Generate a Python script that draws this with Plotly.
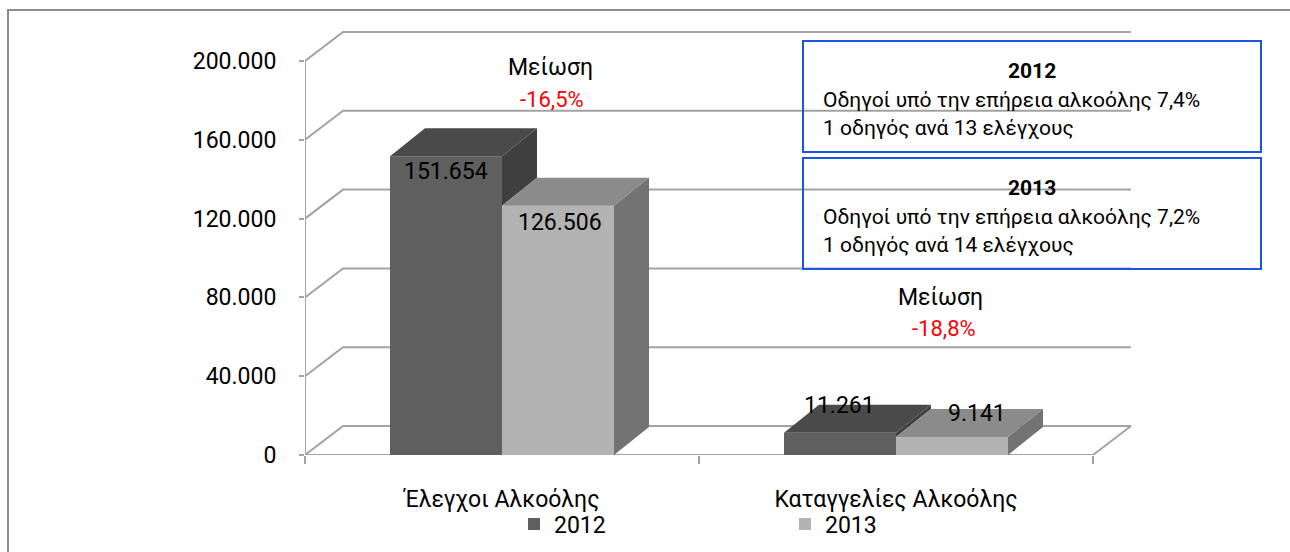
import plotly.graph_objects as go

# ---------------- data ----------------
categories = ["Έλεγχοι Αλκοόλης", "Καταγγελίες Αλκοόλης"]
series_names = ["2012", "2013"]
values_2012 = [151654, 11261]
values_2013 = [126506, 9141]
y_ticks = [0, 40000, 80000, 120000, 160000, 200000]
change_labels = ["-16,5%", "-18,8%"]
box_titles = ["2012", "2013"]
box_line1 = ["Οδηγοί υπό την επήρεια αλκοόλης 7,4%", "Οδηγοί υπό την επήρεια αλκοόλης 7,2%"]
box_line2 = ["1 οδηγός ανά 13 ελέγχους", "1 οδηγός ανά 14 ελέγχους"]

# ---------------- styling / geometry ----------------
W, H = 1290, 552
ML, MR, MT, MB = 305, 155, 30, 97
PX_PER_X = 394.0                 # pixels per category unit on the front plane
PX_PER_Y = 394.0 / 200000        # pixels per value unit
plot_w = W - ML - MR
plot_h = H - MT - MB
x_range = [-0.5, -0.5 + plot_w / PX_PER_X]
y_range = [0, plot_h / PX_PER_Y]

FONT = "Roboto"
GRID = "#a3a3a3"
bar_w = 112 / PX_PER_X
dx_bar, dy_bar = 35 / PX_PER_X, 28 / PX_PER_Y
dx_grid, dy_grid = 38 / PX_PER_X, 29 / PX_PER_Y
front_col = ["#5f5f5f", "#b3b3b3"]
top_col = ["#4a4a4a", "#8b8b8b"]
side_col = ["#3f3f3f", "#737373"]
# pixel offsets of value labels: [series][category]
label_yshift = [[-15, 27], [-17, 23]]
label_xshift = [[0, -1], [2, 25]]

def fmt(v):
    return f"{v:,}".replace(",", ".")

def px_to_paper_x(px):
    return (px - ML) / plot_w

def px_to_paper_y(py):
    return (H - MB - py) / plot_h

series_vals = [values_2012, values_2013]
x_idx = list(range(len(categories)))
offsets = [-bar_w, 0.0]

fig = go.Figure()

# front faces (real bars)
for s, name in enumerate(series_names):
    fig.add_trace(go.Bar(
        x=x_idx, y=series_vals[s], name=name, width=bar_w, offset=offsets[s],
        marker=dict(color=front_col[s], line=dict(width=0)),
        hoverinfo="skip",
    ))

# 3D top and side faces, derived from the data
for g in x_idx:
    for s in range(len(series_names)):
        v = series_vals[s][g]
        x0 = g + offsets[s]
        x1 = x0 + bar_w
        fig.add_trace(go.Scatter(
            x=[x0, x0 + dx_bar, x1 + dx_bar, x1, x0],
            y=[v, v + dy_bar, v + dy_bar, v, v],
            fill="toself", fillcolor=top_col[s], mode="lines", line=dict(width=0),
            showlegend=False, hoverinfo="skip"))
        if s + 1 < len(series_names):
            bottom = min(v, series_vals[s + 1][g])
        else:
            bottom = 0
        fig.add_trace(go.Scatter(
            x=[x1, x1 + dx_bar, x1 + dx_bar, x1, x1],
            y=[v, v + dy_bar, bottom + dy_bar, bottom, v],
            fill="toself", fillcolor=side_col[s], mode="lines", line=dict(width=0),
            showlegend=False, hoverinfo="skip"))

shapes = []
x_front_end = len(categories) - 0.5
for t in y_ticks:
    shapes.append(dict(
        type="path", xref="x", yref="y", layer="below",
        path=f"M{-0.5},{t} L{-0.5 + dx_grid},{t + dy_grid} L{x_front_end + dx_grid},{t + dy_grid}",
        line=dict(color=GRID, width=2)))
shapes.append(dict(type="path", xref="x", yref="y", layer="below",
                   path=f"M{-0.5},0 L{x_front_end},0 L{x_front_end + dx_grid},{dy_grid}",
                   line=dict(color=GRID, width=2)))
shapes.append(dict(type="line", xref="x", yref="y", layer="below",
                   x0=-0.5, x1=-0.5, y0=0, y1=y_ticks[-1],
                   line=dict(color=GRID, width=2)))

# outer chart border
shapes.append(dict(type="rect", xref="paper", yref="paper",
                   x0=px_to_paper_x(8), x1=px_to_paper_x(1400),
                   y0=px_to_paper_y(700), y1=px_to_paper_y(10),
                   line=dict(color="#8c8c8c", width=2)))

annotations = []
for g in x_idx:
    for s in range(len(series_names)):
        v = series_vals[s][g]
        annotations.append(dict(
            x=g + offsets[s] + bar_w / 2, y=v, xref="x", yref="y",
            xanchor="center", yanchor="middle",
            text=fmt(v), showarrow=False,
            yshift=label_yshift[s][g], xshift=label_xshift[s][g],
            font=dict(family=FONT, size=23, color="#000000")))

change_pos = [((550, 68), (552, 100)), ((940, 297), (944, 328))]
for ((px1, py1), (px2, py2)), lab in zip(change_pos, change_labels):
    annotations.append(dict(x=px_to_paper_x(px1), y=px_to_paper_y(py1), xref="paper", yref="paper",
                            xanchor="center", yanchor="middle",
                            text="Μείωση", showarrow=False,
                            font=dict(family=FONT, size=23, color="#000000")))
    annotations.append(dict(x=px_to_paper_x(px2), y=px_to_paper_y(py2), xref="paper", yref="paper",
                            xanchor="center", yanchor="middle",
                            text=lab, showarrow=False,
                            font=dict(family=FONT, size=22, color="#ff0000")))

box_y = [(41, 152), (158, 269)]
bx0, bx1 = 803, 1261
for i, (ytop, ybot) in enumerate(box_y):
    shapes.append(dict(type="rect", xref="paper", yref="paper",
                       x0=px_to_paper_x(bx0), x1=px_to_paper_x(bx1),
                       y0=px_to_paper_y(ybot), y1=px_to_paper_y(ytop),
                       line=dict(color="#1a56e0", width=2), fillcolor="rgba(0,0,0,0)"))
    annotations.append(dict(x=px_to_paper_x((bx0 + bx1) / 2), y=px_to_paper_y(ytop + 30),
                            xref="paper", yref="paper", xanchor="center", yanchor="middle",
                            text=f"<b>{box_titles[i]}</b>",
                            showarrow=False, font=dict(family=FONT, size=21, color="#000000")))
    annotations.append(dict(x=px_to_paper_x(821), y=px_to_paper_y(ytop + 59),
                            xref="paper", yref="paper", xanchor="left", yanchor="middle",
                            text=box_line1[i],
                            showarrow=False, font=dict(family=FONT, size=21, color="#000000")))
    annotations.append(dict(x=px_to_paper_x(821), y=px_to_paper_y(ytop + 87),
                            xref="paper", yref="paper", xanchor="left", yanchor="middle",
                            text=box_line2[i],
                            showarrow=False, font=dict(family=FONT, size=21, color="#000000")))

fig.update_layout(
    width=W, height=H, margin=dict(l=ML, r=MR, t=MT, b=MB, autoexpand=False),
    paper_bgcolor="white", plot_bgcolor="rgba(0,0,0,0)",
    separators=",.",
    barmode="overlay",
    shapes=shapes, annotations=annotations,
    showlegend=True,
    legend=dict(orientation="h", x=px_to_paper_x(514), xanchor="left",
                y=px_to_paper_y(524), yanchor="middle",
                entrywidth=226, entrywidthmode="pixels",
                font=dict(family=FONT, size=23, color="#000000"),
                bgcolor="rgba(0,0,0,0)"),
    xaxis=dict(range=x_range, showgrid=False, zeroline=False, showline=False,
               automargin=False,
               tickvals=x_idx, ticktext=categories, ticks="",
               ticklabelstandoff=28,
               tickfont=dict(family=FONT, size=23, color="#000000"),
               minor=dict(tickvals=[-0.5, 0.5, 1.5], ticks="outside", ticklen=8,
                          tickcolor=GRID, tickwidth=2, showgrid=False),
               fixedrange=True),
    yaxis=dict(range=y_range, showgrid=False, zeroline=False, showline=False,
               automargin=False,
               tickvals=y_ticks, tickformat=",d", ticks="outside", ticklen=5,
               tickcolor=GRID, tickwidth=2, ticklabelstandoff=18,
               tickfont=dict(family=FONT, size=23, color="#000000"),
               fixedrange=True),
)

fig.write_html("out.html", config={"displayModeBar": False},
               post_script="document.body.style.margin='0';")
